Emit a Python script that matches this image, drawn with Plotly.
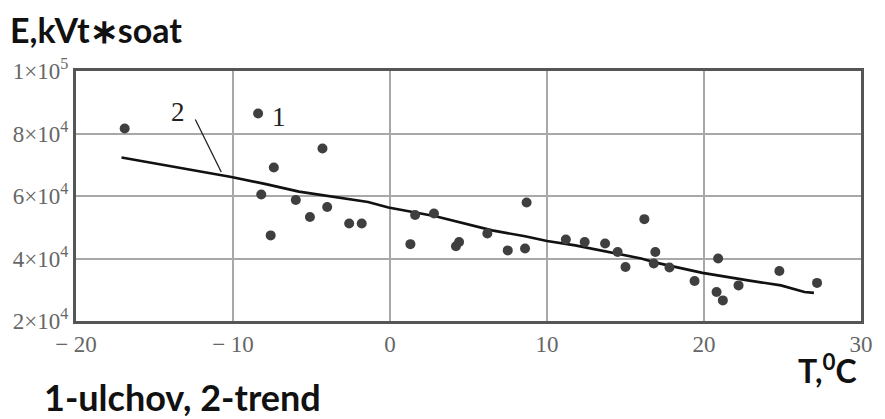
import plotly.graph_objects as go

# Measured electricity consumption vs outdoor temperature
temp_measured = [-16.9, -8.4, -7.4, -8.2, -7.6, -4.3, -6.0, -4.0, -5.1, -2.6, -1.8,
                 1.3, 1.6, 2.8, 4.2, 4.4, 6.2, 7.5, 8.6, 8.7, 11.2, 12.4, 13.7,
                 14.5, 15.0, 16.2, 16.9, 16.8, 17.8, 19.4, 20.9, 20.8, 21.2, 22.2,
                 24.8, 27.2]
energy_measured = [81600, 86400, 69100, 60500, 47400, 75200, 58700, 56500, 53300,
                   51200, 51200, 44600, 53900, 54400, 43900, 45300, 48000, 42600,
                   43200, 57900, 46100, 45300, 44800, 42100, 37300, 52600, 42100,
                   38400, 37100, 32800, 40000, 29300, 26600, 31400, 36000, 32200]

# Trend curve
temp_trend = [-17.1, -14.9, -12.2, -10.1, -7.9, -5.8, -1.4, -0.1, 2.9, 5.0, 6.5,
              8.6, 10.0, 11.8, 13.9, 16.0, 17.0, 19.9, 22.8, 24.9, 26.4, 27.0]
energy_trend = [72300, 70400, 68100, 66100, 63800, 61400, 58100, 56300, 53500,
                51000, 49000, 47100, 45600, 44200, 42100, 40000, 38600, 35400,
                33000, 31400, 29300, 29000]

x_ticks = [-20, -10, 0, 10, 20, 30]
x_tick_text = ["\u2212 20", "\u2212 10", "0", "10", "20", "30"]
y_ticks = [20000, 40000, 60000, 80000, 100000]
y_tick_text = ["2\u00d710<sup>4</sup>", "4\u00d710<sup>4</sup>", "6\u00d710<sup>4</sup>",
               "8\u00d710<sup>4</sup>", "1\u00d710<sup>5</sup>"]

fig = go.Figure()
fig.add_trace(go.Scatter(
    x=temp_trend, y=energy_trend, mode="lines",
    line=dict(color="#111111", width=2.6), hoverinfo="skip"))
fig.add_trace(go.Scatter(
    x=temp_measured, y=energy_measured, mode="markers",
    marker=dict(color="#3f3f3f", size=10, line=dict(width=0))))

serif = "Liberation Serif"
tick_font = dict(family=serif, size=23, color="#666666")

fig.update_xaxes(
    range=[-20, 30], tickvals=x_ticks, ticktext=x_tick_text, tickfont=tick_font,
    showgrid=True, gridcolor="#a8a8a8", gridwidth=1.5, zeroline=False,
    showline=True, linecolor="#555555", linewidth=3, mirror=True, ticks="")
fig.update_yaxes(
    range=[20000, 100000], tickvals=y_ticks, ticktext=y_tick_text, tickfont=tick_font,
    showgrid=True, gridcolor="#a8a8a8", gridwidth=1.5, zeroline=False,
    showline=True, linecolor="#555555", linewidth=3, mirror=True, ticks="")

def label_font(size):
    return dict(family="Lato", size=size, color="#111111")

annotations = [
    dict(x=-13.5, y=87000, xref="x", yref="y", text="2", showarrow=False,
         font=dict(family=serif, size=27, color="#222222")),
    dict(x=-7.1, y=85400, xref="x", yref="y", text="1", showarrow=False,
         font=dict(family=serif, size=27, color="#222222")),
    dict(x=-0.086, y=1.165, xref="paper", yref="paper", xanchor="left",
         yanchor="middle", text="<b>E,kVt\u2217soat</b>", showarrow=False,
         font=label_font(34)),
    dict(x=0.9975, y=-0.19, xref="paper", yref="paper", xanchor="right",
         yanchor="middle", text="<b>T,<sup>0</sup>C</b>", showarrow=False,
         font=label_font(32)),
    dict(x=-0.043, y=-0.305, xref="paper", yref="paper", xanchor="left",
         yanchor="middle", text="<b>1-ulchov, 2-trend</b>", showarrow=False,
         font=label_font(36)),
]

fig.update_layout(
    width=885, height=419,
    margin=dict(l=76, r=21, t=71, b=98),
    paper_bgcolor="white", plot_bgcolor="white",
    showlegend=False,
    annotations=annotations,
    shapes=[dict(type="line", xref="x", yref="y", x0=-12.4, y0=84500,
                 x1=-10.75, y1=67700, line=dict(color="#222222", width=1.3))],
)

fig.write_html("out.html")
